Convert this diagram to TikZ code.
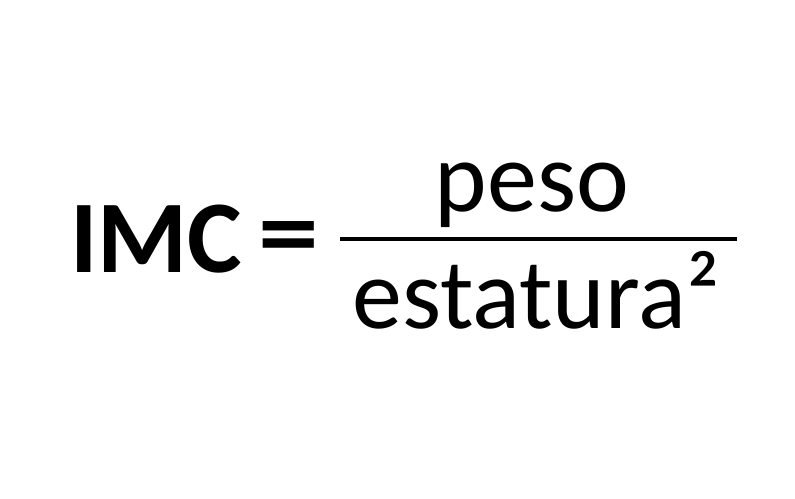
\documentclass[tikz,border=0pt]{standalone}
\usepackage{fontspec}
\setmainfont{Carlito}
\begin{document}
\begin{tikzpicture}[x=1bp,y=-1bp,
  txt/.style={inner sep=0pt,outer sep=0pt,font=\fontsize{100bp}{120bp}\selectfont},
  btxt/.style={txt,font=\fontsize{103bp}{120bp}\selectfont\bfseries}]
\useasboundingbox (0,0) rectangle (795,499);
\fill[white] (0,0) rectangle (795,499);
\node[btxt,anchor=base west] (imc) at (70,273) {IMC};
\node[btxt,anchor=center,xscale=1.18] (eq) at (288.5,245) {=};
\node[txt,anchor=base] (num) at (532,212) {peso};
\node[txt,anchor=base] (den) at (536,328) {estatura²};
\draw[line width=3.5bp] (340,239) -- (737,239);
\end{tikzpicture}
\end{document}
